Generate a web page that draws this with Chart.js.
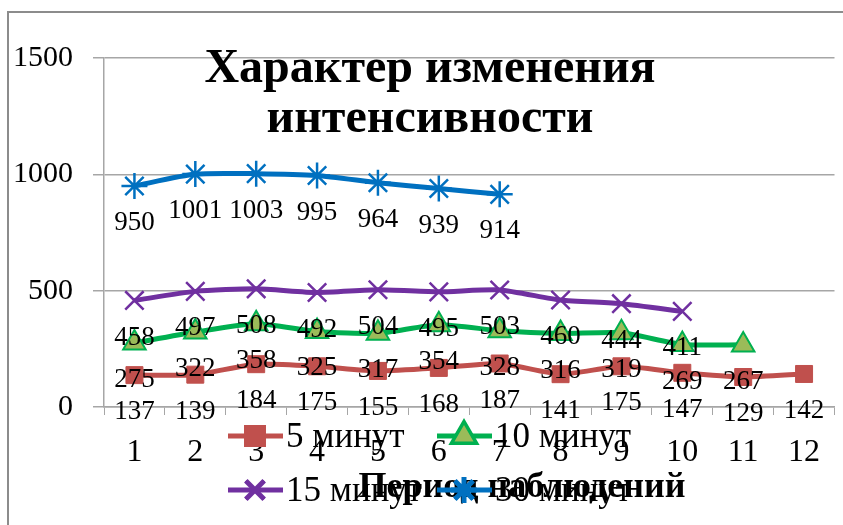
<!DOCTYPE html>
<html>
<head>
<meta charset="utf-8">
<script src="https://cdn.jsdelivr.net/npm/chart.js@4"></script>
<style>
  html, body { margin: 0; padding: 0; background: #fff; overflow: hidden; }
  canvas { display: block; }
</style>
</head>
<body>
<canvas id="chart" width="850" height="525"></canvas>
<script>
// Period numbers on the x axis
const periods = ['1', '2', '3', '4', '5', '6', '7', '8', '9', '10', '11', '12'];

// Intensity per observation interval
const min5 = [137, 139, 184, 175, 155, 168, 187, 141, 175, 147, 129, 142];
const min10 = [275, 322, 358, 325, 317, 354, 328, 316, 319, 269, 267];
const min15 = [458, 497, 508, 492, 504, 495, 503, 460, 444, 411];
const min30 = [950, 1001, 1003, 995, 964, 939, 914];

const yTicks = [0, 500, 1000, 1500];

const SERIF = "'Liberation Serif', 'Times New Roman', serif";

// frame + title drawn over the grid
const decorPlugin = {
  id: 'decor',
  beforeDraw(chart) {
    const ctx = chart.ctx;
    ctx.save();
    ctx.strokeStyle = '#8c8c8c';
    ctx.lineWidth = 2;
    ctx.strokeRect(8, 12, 900, 600);
    ctx.restore();
  },
  afterDraw(chart) {
    const ctx = chart.ctx;
    ctx.save();
    ctx.fillStyle = '#000';
    ctx.textAlign = 'center';
    ctx.textBaseline = 'middle';
    ctx.font = 'bold 48px ' + SERIF;
    ctx.fillText('Характер изменения', 430, 70);
    ctx.fillText('интенсивности', 430, 120);

    ctx.font = 'bold 36px ' + SERIF;
    ctx.fillText('Период наблюдений', 522, 488);

    // legend, overlapping the axis like in the original
    const items = [
      { ds: 0, x: 228, y: 436, text: '5 минут' },
      { ds: 1, x: 437, y: 436, text: '10 минут' },
      { ds: 2, x: 228, y: 490, text: '15 минут' },
      { ds: 3, x: 437, y: 490, text: '30 минут' },
    ];
    items.forEach(it => {
      const d = chart.data.datasets[it.ds];
      ctx.strokeStyle = d.borderColor;
      ctx.lineWidth = 5;
      ctx.beginPath();
      ctx.moveTo(it.x, it.y);
      ctx.lineTo(it.x + 55, it.y);
      ctx.stroke();
      Chart.helpers.drawPoint(ctx, {
        pointStyle: d.pointStyle,
        radius: d.pointRadius,
        borderWidth: d.pointBorderWidth,
      }, it.x + 27, it.y);
      ctx.fillStyle = d.pointBackgroundColor;
      ctx.strokeStyle = d.pointBorderColor;
      ctx.lineWidth = d.pointBorderWidth;
      ctx.fill();
      ctx.stroke();
      ctx.fillStyle = '#000';
      ctx.textAlign = 'left';
      ctx.font = '35px ' + SERIF;
      ctx.fillText(it.text, it.x + 58, it.y + 2);
    });
    ctx.restore();
  },
};

// value labels, drawn below each point
const valueLabels = {
  id: 'valueLabels',
  afterDatasetsDraw(chart) {
    const ctx = chart.ctx;
    ctx.save();
    ctx.fillStyle = '#000';
    ctx.font = '27px ' + SERIF;
    ctx.textAlign = 'center';
    ctx.textBaseline = 'middle';
    chart.data.datasets.forEach((d, i) => {
      chart.getDatasetMeta(i).data.forEach((pt, j) => {
        ctx.fillText(String(d.data[j]), pt.x, pt.y + 37);
      });
    });
    ctx.restore();
  },
};

function series(label, data, color, style, bg, border, radius, bw) {
  return {
    label,
    data,
    borderColor: color,
    borderWidth: 5,
    tension: 0.2,
    pointStyle: style,
    pointRadius: radius,
    pointHoverRadius: radius,
    pointBackgroundColor: bg,
    pointBorderColor: border,
    pointBorderWidth: bw,
  };
}

new Chart(document.getElementById('chart'), {
  type: 'line',
  data: {
    labels: periods,
    datasets: [
      series('5 минут', min5, '#C0504D', 'rect', '#C0504D', '#C0504D', 12, 1),
      series('10 минут', min10, '#00B050', 'triangle', '#9BBB59', '#00B050', 13, 2),
      series('15 минут', min15, '#7030A0', 'crossRot', '#7030A0', '#7030A0', 13, 2.5),
      series('30 минут', min30, '#0070C0', 'star', '#0070C0', '#0070C0', 13, 2.5),
    ],
  },
  options: {
    responsive: false,
    animation: false,
    layout: { padding: { top: 58, right: 4, left: 0, bottom: 0 } },
    plugins: {
      legend: { display: false },
      title: { display: false },
      tooltip: { enabled: false },
    },
    scales: {
      x: {
        offset: true,
        afterFit(scale) { scale.height = 118; },
        grid: {
          offset: true,
          drawOnChartArea: false,
          drawTicks: true,
          tickLength: 8,
          color: '#a6a6a6',
        },
        border: { color: '#a6a6a6', width: 1.5 },
        ticks: {
          color: '#000',
          padding: 18,
          maxRotation: 0,
          font: { family: SERIF, size: 32 },
        },
      },
      y: {
        min: 0,
        max: 1500,
        afterFit(scale) { scale.width = 104; },
        afterBuildTicks(scale) { scale.ticks = yTicks.map(v => ({ value: v })); },
        grid: {
          color: '#a6a6a6',
          lineWidth: 1.5,
          tickLength: 11,
        },
        border: { color: '#a6a6a6', width: 1.5 },
        ticks: {
          color: '#000',
          padding: 20,
          font: { family: SERIF, size: 30 },
          callback: v => String(v),
        },
      },
    },
  },
  plugins: [decorPlugin, valueLabels],
});
</script>
</body>
</html>
